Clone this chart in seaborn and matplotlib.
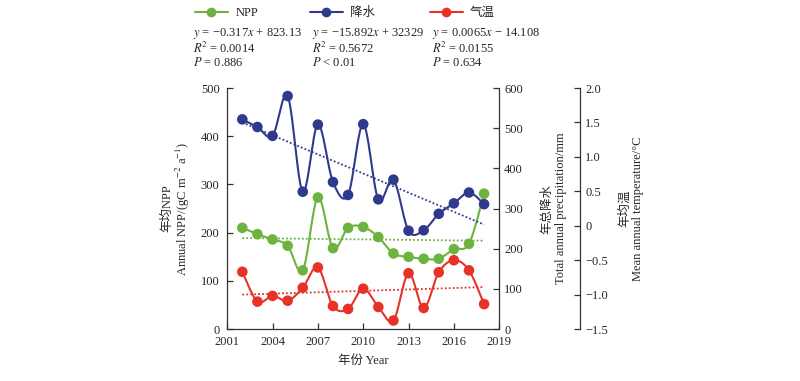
import numpy as np
import pandas as pd
import matplotlib
matplotlib.use("Agg")
import matplotlib.pyplot as plt
import seaborn as sns
from matplotlib.lines import Line2D

# ---------------- data ----------------
years = list(range(2002, 2019))
npp = [210, 197, 186, 173, 122, 273, 168, 210, 212, 191, 157, 150, 146, 146, 166, 177, 281]
precip = [522, 503, 481, 580, 342, 509, 366, 334, 510, 323, 372, 245, 246, 287, 313, 340, 311]
temp = [-0.667, -1.100, -1.017, -1.087, -0.898, -0.604, -1.164, -1.206, -0.912, -1.178,
        -1.374, -0.688, -1.192, -0.674, -0.499, -0.646, -1.136]

series_names = ["NPP", "降水", "气温"]
eq_texts = [
    ["$y$ = −0.317$x$ + 823.13", "$R$$^2$ = 0.0014", "$P$ = 0.886"],
    ["$y$ = −15.892$x$ + 32329", "$R$$^2$ = 0.5672", "$P$ < 0.01"],
    ["$y$ = 0.0065$x$ − 14.108", "$R$$^2$ = 0.0155", "$P$ = 0.634"],
]
x_ticks = [2001, 2004, 2007, 2010, 2013, 2016, 2019]
npp_ticks = [0, 100, 200, 300, 400, 500]
precip_ticks = [0, 100, 200, 300, 400, 500, 600]
temp_ticks = [-1.5, -1.0, -0.5, 0, 0.5, 1.0, 1.5, 2.0]
temp_tick_labels = ["−1.5", "−1.0", "−0.5", "0", "0.5", "1.0", "1.5", "2.0"]

GREEN = "#6cb33f"
BLUE = "#2f3a8c"
RED = "#e83228"

# ---------------- style ----------------
sns.set_style("ticks")
plt.rcParams["font.family"] = ["Liberation Serif", "Noto Sans CJK SC"]
plt.rcParams["mathtext.fontset"] = "stix"
plt.rcParams["font.size"] = 9
plt.rcParams["axes.unicode_minus"] = True


def smooth(x, y, n=24):
    P = np.column_stack([np.asarray(x, float), np.asarray(y, float)])
    Pe = np.vstack([P[0], P, P[-1]])
    t = np.linspace(0, 1, n)[:, None]
    out = []
    for i in range(len(P) - 1):
        p0, p1, p2, p3 = Pe[i], Pe[i + 1], Pe[i + 2], Pe[i + 3]
        c1 = p1 + (p2 - p0) / 6.0
        c2 = p2 - (p3 - p1) / 6.0
        seg = (1 - t) ** 3 * p1 + 3 * (1 - t) ** 2 * t * c1 + 3 * (1 - t) * t ** 2 * c2 + t ** 3 * p2
        out.append(seg if i == 0 else seg[1:])
    a = np.vstack(out)
    return a[:, 0], a[:, 1]


def draw(ax, xs, ys, color, z):
    sx, sy = smooth(xs, ys)
    sns.lineplot(x=sx, y=sy, ax=ax, color=color, lw=1.5, sort=False,
                 estimator=None, zorder=z)
    coef = np.polyfit(xs, ys, 1)
    tx = np.array([xs[0], xs[-1]], float)
    sns.lineplot(x=tx, y=np.polyval(coef, tx), ax=ax, color=color, lw=1.3,
                 linestyle=(0, (1, 1.2)), estimator=None, zorder=z - 1)
    sns.scatterplot(x=xs, y=ys, ax=ax, color=color, s=58, edgecolor="none",
                    zorder=z + 1)


fig = plt.figure(figsize=(8, 3.81), dpi=100)
ax = fig.add_axes([0.284, 0.136, 0.340, 0.633])
ax2 = ax.twinx()
ax3 = ax.twinx()

draw(ax, years, npp, GREEN, 3)
draw(ax2, years, precip, BLUE, 3)
draw(ax3, years, temp, RED, 3)

ax.set_xlim(2001, 2019)
ax.set_xticks(x_ticks)
ax.set_ylim(0, 500)
ax.set_yticks(npp_ticks)
ax2.set_ylim(0, 600)
ax2.set_yticks(precip_ticks)
ax3.set_ylim(-1.5, 2.0)
ax3.set_yticks(temp_ticks)
ax3.set_yticklabels(temp_tick_labels)

for a in (ax, ax2, ax3):
    a.spines["top"].set_visible(False)
    a.tick_params(direction="in", length=4, width=0.9, labelsize=9, color="#333333")
    a.patch.set_visible(False)
ax.tick_params(axis="y", pad=5.5)
ax.tick_params(axis="x", pad=5)
ax.spines["right"].set_visible(False)
ax2.spines["left"].set_visible(False)
ax2.spines["bottom"].set_visible(False)
ax3.spines["left"].set_visible(False)
ax3.spines["bottom"].set_visible(False)
ax3.spines["right"].set_position(("axes", 1.298))
for a in (ax, ax2, ax3):
    for s in a.spines.values():
        s.set_linewidth(0.9)
        s.set_color("#333333")

ax.set_xlabel("年份 Year", fontsize=9, labelpad=5)
ax.set_ylabel("年均NPP\nAnnual NPP/(gC m$^{-2}$ a$^{-1}$)", fontsize=9, labelpad=6,
              linespacing=1.1)
ax2.set_ylabel("年总降水\nTotal annual precipitation/mm", fontsize=9, labelpad=13,
               linespacing=1.2)
ax3.set_ylabel("年均温\nMean annual temperature/°C", fontsize=9, labelpad=8,
               linespacing=1.1)

# ---------------- legend + equations ----------------
leg_x = [0.244, 0.3875, 0.5375]
eq_x = [0.241, 0.39, 0.54]
colors = [GREEN, BLUE, RED]
for i in range(3):
    h = Line2D([], [], color=colors[i], lw=1.5, marker="o", markersize=7,
               markeredgecolor="none")
    fig.legend([h], [series_names[i]], loc="center left",
               bbox_to_anchor=(leg_x[i], 0.966), frameon=False, fontsize=9,
               handlelength=2.6, handletextpad=0.6, borderpad=0,
               borderaxespad=0)
    for j, txt in enumerate(eq_texts[i]):
        fig.text(eq_x[i], [0.913, 0.874, 0.835][j], txt, fontsize=9,
                 ha="left", va="center")

fig.savefig("out.png", dpi=100)
